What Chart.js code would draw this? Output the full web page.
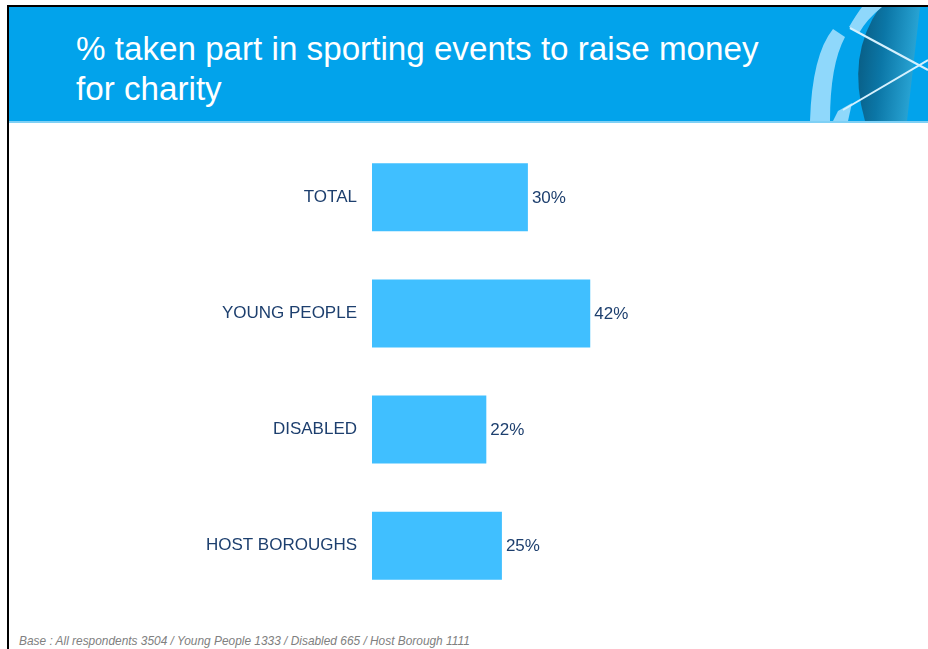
<!DOCTYPE html>
<html>
<head>
<meta charset="utf-8">
<script src="https://cdn.jsdelivr.net/npm/chart.js@4/dist/chart.umd.min.js"></script>
<style>
  html, body { margin: 0; padding: 0; background: #ffffff; }
  body { width: 928px; height: 649px; position: relative; overflow: hidden; font-family: "Liberation Sans", Arial, sans-serif; }
  #frame { position: absolute; left: 7px; top: 5px; width: 940px; height: 660px; border-left: 2px solid #000; border-top: 2px solid #000; }
  #header { position: absolute; left: 9px; top: 7px; width: 919px; height: 114px; background: #02a3eb; border-bottom: 2px solid #7fd0f5; }
  #title { position: absolute; left: 67px; top: 22px; color: #ffffff; font-size: 33.2px; line-height: 40px; }
  #logo { position: absolute; left: 791px; top: 0; }
  #wrap { position: absolute; left: 0; top: 114px; width: 928px; height: 515px; }
  #note { position: absolute; left: 19px; top: 634px; font-size: 11.9px; font-style: italic; color: #808080; }
</style>
</head>
<body>
<div id="frame"></div>
<div id="header">
  <div id="title">% taken part in sporting events to raise money<br>for charity</div>
  <svg id="logo" width="128" height="114" viewBox="0 0 128 114">
    <defs>
      <linearGradient id="lens" x1="0" y1="0" x2="1" y2="0.2">
        <stop offset="0" stop-color="#08597f"/>
        <stop offset="0.45" stop-color="#0b76a6"/>
        <stop offset="1" stop-color="#2aa6d6"/>
      </linearGradient>
    </defs>
    <!-- dark sail shape -->
    <path d="M80 0 Q46 48 65 114 L107 114 L120 0 Z" fill="url(#lens)"/>
    <!-- light arc bands -->
    <path d="M10 114 Q12 48 33 22 L45 30 Q30 58 30 114 Z" fill="#8fd8fb"/>
    <path d="M49 20 Q56 8 62 0 L82 0 Q67 12 59 26 Z" fill="#8fd8fb"/>
    <path d="M33 114 L38 104 L52 96 L48 114 Z" fill="#8fd8fb"/>
    <!-- crossing lines -->
    <path d="M50 21 L128 63" stroke="#d6f1fe" stroke-width="2"/>
    <path d="M43 103 L128 53" stroke="#d6f1fe" stroke-width="2"/>
  </svg>
</div>
<div id="wrap"><canvas id="chart"></canvas></div>
<div id="note">Base : All respondents 3504 / Young People 1333 / Disabled 665 / Host Borough 1111</div>
<script>
// Survey groups and the share who took part (%)
const groups = ['TOTAL', 'YOUNG PEOPLE', 'DISABLED', 'HOST BOROUGHS'];
const shares = [30, 42, 22, 25];

const barColor = '#40bfff';
const textColor = '#1d3f6e';

// Writes the percentage just past the end of each bar
const valueLabels = {
  id: 'valueLabels',
  afterDatasetsDraw(chart) {
    const ctx = chart.ctx;
    const meta = chart.getDatasetMeta(0);
    ctx.save();
    ctx.font = '17px "Liberation Sans", Arial, sans-serif';
    ctx.fillStyle = textColor;
    ctx.textAlign = 'left';
    ctx.textBaseline = 'middle';
    meta.data.forEach((bar, i) => {
      ctx.fillText(shares[i] + '%', bar.x + 4, bar.y + 1);
    });
    ctx.restore();
  }
};

const chart = new Chart(document.getElementById('chart'), {
  type: 'bar',
  data: {
    labels: groups,
    datasets: [{
      data: shares,
      backgroundColor: barColor,
      barPercentage: 0.586,
      categoryPercentage: 1
    }]
  },
  options: {
    indexAxis: 'y',
    responsive: true,
    maintainAspectRatio: false,
    animation: false,
    layout: { padding: { top: 16, bottom: 0, left: 0, right: 0 } },
    plugins: {
      legend: { display: false },
      tooltip: { enabled: false }
    },
    scales: {
      x: {
        display: false,
        min: 0,
        max: 107
      },
      y: {
        afterFit(scale) { scale.width = 372; },
        border: { display: false },
        grid: { display: false, drawTicks: false },
        ticks: {
          padding: 15,
          color: textColor,
          font: { size: 17, family: '"Liberation Sans", Arial, sans-serif' }
        }
      }
    }
  },
  plugins: [valueLabels]
});
</script>
</body>
</html>
